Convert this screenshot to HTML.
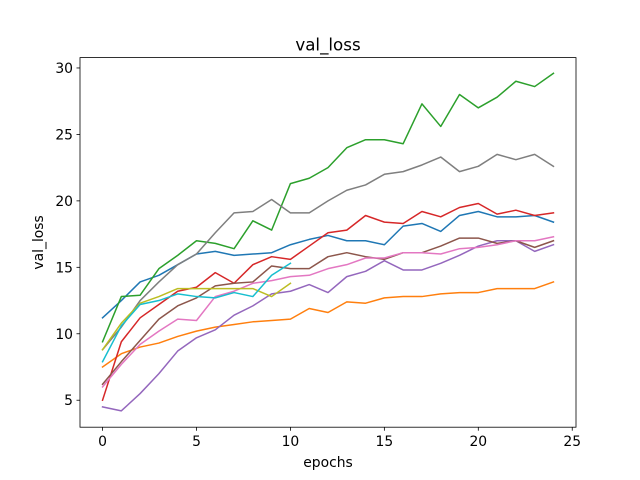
<!DOCTYPE html>
<html><head><meta charset="utf-8"><style>
body{margin:0;background:#fff;}
svg{display:block;font-family:"DejaVu Sans","Liberation Sans",sans-serif;}
</style></head><body>
<svg id="chart" width="640" height="480"></svg>
<script>
const epochs=[0,1,2,3,4,5,6,7,8,9,10,11,12,13,14,15,16,17,18,19,20,21,22,23,24];
const xTicks=[0,5,10,15,20,25];
const yTicks=[5,10,15,20,25,30];
const s0=[11.2,12.5,13.9,14.4,15.2,16.0,16.2,15.9,16.0,16.1,16.7,17.1,17.4,17.0,17.0,16.7,18.1,18.3,17.7,18.9,19.2,18.8,18.8,18.9,18.4];
const s1=[7.5,8.5,9.0,9.3,9.8,10.2,10.5,10.7,10.9,11.0,11.1,11.9,11.6,12.4,12.3,12.7,12.8,12.8,13.0,13.1,13.1,13.4,13.4,13.4,13.9];
const s2=[9.4,12.8,12.9,14.9,15.9,17.0,16.8,16.4,18.5,17.8,21.3,21.7,22.5,24.0,24.6,24.6,24.3,27.3,25.6,28.0,27.0,27.8,29.0,28.6,29.6];
const s3=[5.0,9.4,11.2,12.2,13.2,13.5,14.6,13.8,15.2,15.8,15.6,16.6,17.6,17.8,18.9,18.4,18.3,19.2,18.8,19.5,19.8,19.0,19.3,18.9,19.1];
const s4=[4.5,4.2,5.5,7.0,8.7,9.7,10.3,11.4,12.1,13.0,13.2,13.7,13.1,14.3,14.7,15.5,14.8,14.8,15.3,15.9,16.6,17.0,17.0,16.2,16.7];
const s5=[6.2,7.9,9.5,11.1,12.1,12.7,13.6,13.8,13.9,15.1,14.9,14.9,15.8,16.1,15.8,15.6,16.1,16.1,16.6,17.2,17.2,16.8,17.0,16.5,17.0];
const s6=[6.0,7.7,9.2,10.2,11.1,11.0,12.8,13.2,13.8,14.0,14.3,14.4,14.9,15.2,15.7,15.7,16.1,16.1,16.0,16.4,16.5,16.7,17.0,17.0,17.3];
const s7=[8.8,10.5,12.5,13.9,15.2,16.0,17.6,19.1,19.2,20.1,19.1,19.1,20.0,20.8,21.2,22.0,22.2,22.7,23.3,22.2,22.6,23.5,23.1,23.5,22.6];
const s8=[8.8,10.8,12.3,12.8,13.4,13.4,13.4,13.4,13.4,12.8,13.8];
const s9=[7.9,10.6,12.2,12.5,13.0,12.8,12.7,13.1,12.8,14.4,15.3];
const series=[s0,s1,s2,s3,s4,s5,s6,s7,s8,s9];
const colors=["#1f77b4","#ff7f0e","#2ca02c","#d62728","#9467bd","#8c564b","#e377c2","#7f7f7f","#bcbd22","#17becf"];
const L=80,R=576,T=57.6,B=427.2,xmin=-1.2,xmax=25.2,ymin=2.97,ymax=30.78;
const X=v=>L+(v-xmin)/(xmax-xmin)*(R-L);
const Y=v=>B-(v-ymin)/(ymax-ymin)*(B-T);
const svg=document.getElementById('chart');
const NS="http://www.w3.org/2000/svg";
function mk(t,a){const e=document.createElementNS(NS,t);for(const k in a)e.setAttribute(k,a[k]);svg.appendChild(e);return e;}
series.forEach((s,i)=>{
  const p=mk('polyline',{points:s.map((v,j)=>X(epochs[j])+','+Y(v)).join(' '),fill:'none',stroke:colors[i],'stroke-width':1.5,'stroke-linejoin':'round','stroke-linecap':'square'});
  
  
});
const fr=mk('rect',{x:L,y:T,width:R-L,height:B-T,fill:'none',stroke:'#000','stroke-width':0.8});


xTicks.forEach(t=>{
  mk('line',{x1:X(t),x2:X(t),y1:B,y2:B+3.5,stroke:'#000','stroke-width':0.8});
  const tx=mk('text',{x:X(t),y:B+19,'text-anchor':'middle','font-size':13.9});
  tx.textContent=t;
  
  
});
yTicks.forEach(t=>{
  mk('line',{x1:L,x2:L-3.5,y1:Y(t),y2:Y(t),stroke:'#000','stroke-width':0.8});
  const tx=mk('text',{x:L-7,y:Y(t)+5,'text-anchor':'end','font-size':13.9});
  tx.textContent=t;
  
  
});
const title=mk('text',{x:(L+R)/2,y:T-7,'text-anchor':'middle','font-size':16.7});
title.textContent='val_loss';


const xl=mk('text',{x:(L+R)/2,y:467,'text-anchor':'middle','font-size':13.9});
xl.textContent='epochs';


const yl=mk('text',{x:0,y:0,'text-anchor':'middle','font-size':13.9,transform:'translate(43,'+((T+B)/2)+') rotate(-90)'});
yl.textContent='val_loss';


</script>
</body></html>
